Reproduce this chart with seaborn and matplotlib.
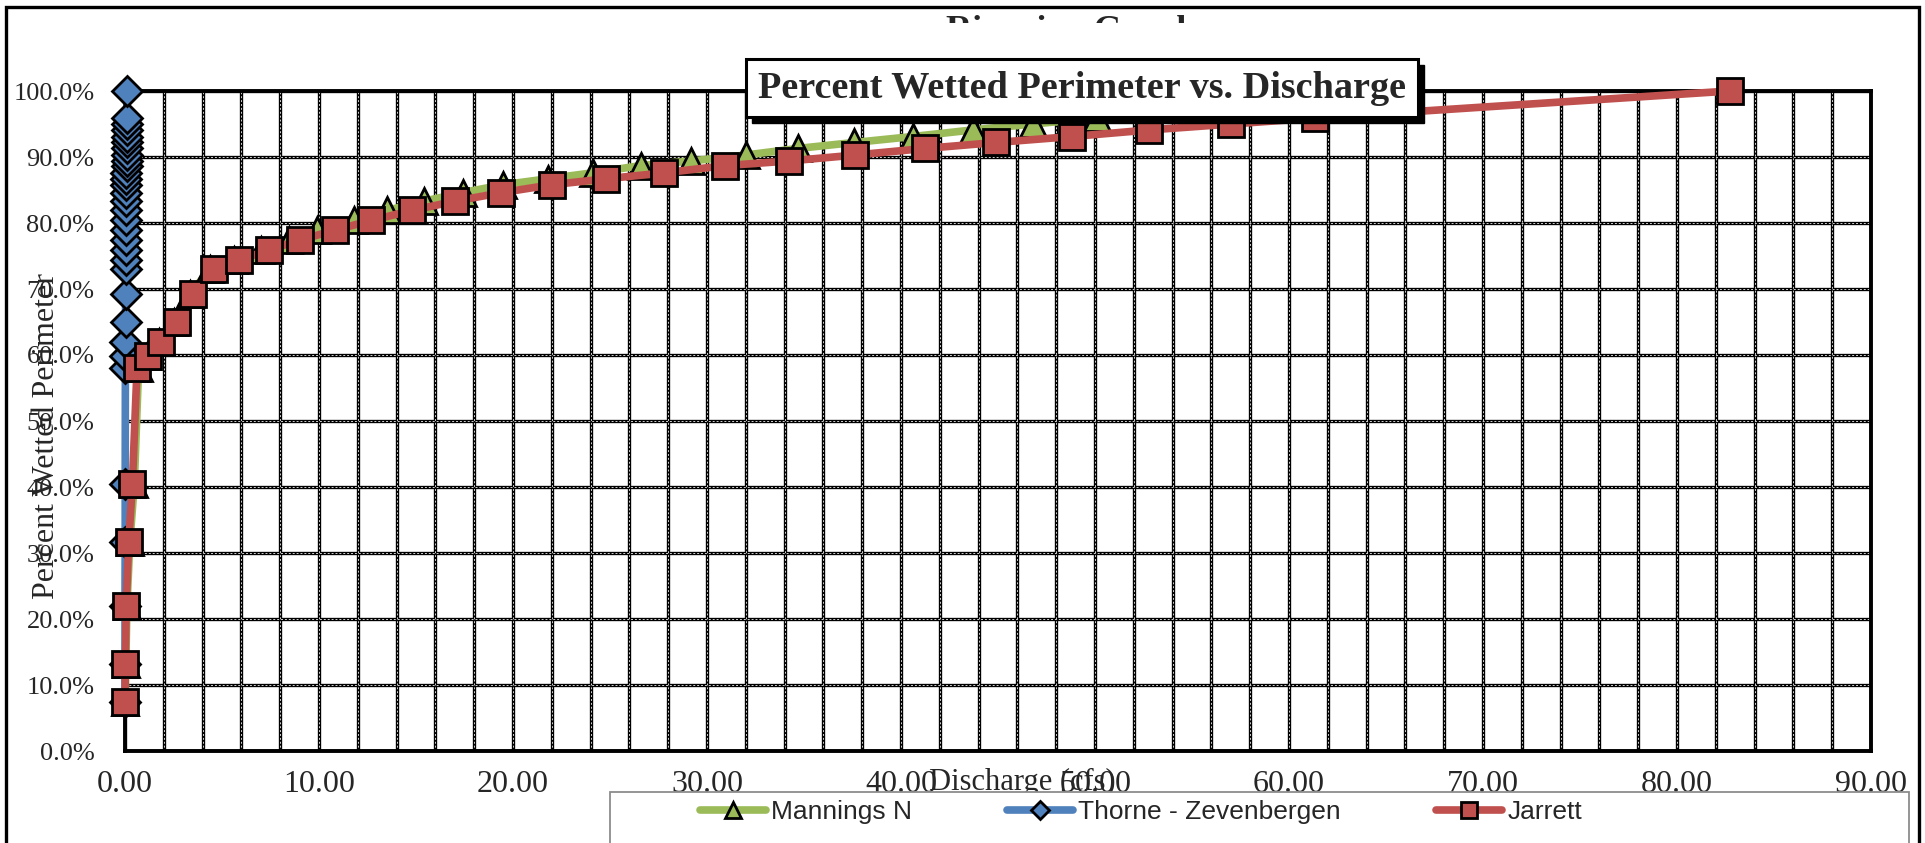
import numpy as np
import matplotlib
matplotlib.use("Agg")
import matplotlib.pyplot as plt
import seaborn as sns
import pandas as pd
from matplotlib.patches import Rectangle
from matplotlib.ticker import MultipleLocator, PercentFormatter

sns.set_theme(style="white")
plt.rcParams['font.family'] = ['Liberation Serif', 'DejaVu Serif']

# percent wetted perimeter levels (shared by the three methods)
pct_wetted = [7.4, 13.2, 21.9, 31.6, 40.5, 58.0, 59.8, 61.9, 65.0, 69.3,
              73.0, 74.4, 75.9, 77.4, 78.9, 80.4, 81.9, 83.3, 84.6, 85.8,
              86.7, 87.6, 88.7, 89.4, 90.3, 91.3, 92.2, 93.1, 94.1, 95.0,
              95.9, 100.0]

# discharge (cfs)
q_mannings = [0.01, 0.04, 0.10, 0.25, 0.48, 0.70, 1.15, 1.75, 2.55, 3.35,
              4.40, 5.60, 7.00, 8.45, 9.90, 11.80, 13.50, 15.40, 17.40, 19.50,
              21.80, 24.10, 26.60, 29.20, 32.00, 34.70, 37.60, 40.60, 43.70, 46.80,
              50.10, 63.00]
q_thorne = [0.00, 0.00, 0.00, 0.01, 0.01, 0.02, 0.02, 0.02, 0.03, 0.03,
            0.04, 0.04, 0.04, 0.05, 0.05, 0.05, 0.06, 0.06, 0.06, 0.07,
            0.07, 0.07, 0.08, 0.08, 0.08, 0.09, 0.09, 0.09, 0.10, 0.10,
            0.10, 0.12]
q_jarrett = [0.00, 0.02, 0.06, 0.19, 0.38, 0.62, 1.19, 1.85, 2.68, 3.50,
             4.60, 5.90, 7.40, 9.00, 10.80, 12.70, 14.80, 17.00, 19.40, 22.00,
             24.80, 27.80, 30.95, 34.24, 37.65, 41.25, 44.90, 48.80, 52.80, 57.03,
             61.33, 82.72]

series = [("Mannings N", q_mannings, "#9BBB59", "^", 19),
          ("Thorne - Zevenbergen", q_thorne, "#4F81BD", "D", 15),
          ("Jarrett", q_jarrett, "#C0504D", "s", 19)]

W, H = 1925, 843
fig = plt.figure(figsize=(W / 100, H / 100), dpi=100)
ax = fig.add_axes([125 / W, 1 - 751 / H, (1871 - 125) / W, (751 - 91) / H])

for name, q, col, mk, ms in series:
    df = pd.DataFrame({"Discharge": q, "Pct": pct_wetted})
    sns.lineplot(data=df, x="Discharge", y="Pct", ax=ax, sort=False, estimator=None,
                 color=col, lw=5.5, marker=mk, markersize=ms, markerfacecolor=col,
                 markeredgecolor="black", markeredgewidth=2.0, label=name,
                 clip_on=False, zorder=3)

ax.set_xlim(0, 90)
ax.set_ylim(0, 100)
ax.xaxis.set_major_locator(MultipleLocator(10))
ax.xaxis.set_minor_locator(MultipleLocator(2))
ax.yaxis.set_major_locator(MultipleLocator(10))
ax.yaxis.set_major_formatter(PercentFormatter(xmax=100, decimals=1))
ax.xaxis.set_major_formatter(plt.FuncFormatter(lambda v, p: f"{v:.2f}"))
ax.grid(True, which="both", axis="x", color="black", lw=2.4, zorder=1)
ax.grid(True, which="major", axis="y", color="black", lw=2.4, zorder=1)
ax.vlines(np.arange(2, 90, 2), 0, 100, colors="#cfcfcf", lw=0.7,
          linestyles=(0, (2, 2)), zorder=1.5)
ax.hlines(np.arange(10, 100, 10), 0, 90, colors="#cfcfcf", lw=0.7,
          linestyles=(0, (2, 2)), zorder=1.5)
ax.set_axisbelow(True)
for s in ax.spines.values():
    s.set_color("black")
    s.set_linewidth(2.8)
ax.tick_params(axis="both", which="both", length=0)
ax.tick_params(axis="y", labelsize=19, pad=22)
ax.tick_params(axis="x", labelsize=23, pad=14)
ax.set_xlabel("")
ax.set_ylabel("")
ax.get_legend().remove()

fig.text(0.024, 0.483, "Percent Wetted Perimeter", rotation=90, ha="center",
         va="center", fontsize=23)
fig.text(0.531, 1 - 782 / H, "Discharge (cfs)", ha="center", va="center", fontsize=22)

# outer chart frame
fig.patches.append(Rectangle((6 / W, -0.1), (1919 - 6) / W, 1.1 - 7 / H,
                             transform=fig.transFigure, fill=False,
                             ec="black", lw=2.4, zorder=20))

# half hidden chart title behind
fig.text(1071 / W, 1 - 15 / H, "Riparian Graph", ha="center", va="top",
         fontsize=26, fontweight="bold", zorder=4)
fig.patches.append(Rectangle((0.4, 1 - 55 / H), 0.3, (55 - 23) / H,
                             transform=fig.transFigure, fc="white", ec="none", zorder=5))

# title box with shadow
bx0, bx1, by0, by1 = 746, 1418, 59, 117
fig.patches.append(Rectangle(((bx0 + 6) / W, 1 - (by1 + 6) / H), (bx1 - bx0) / W,
                             (by1 - by0) / H, transform=fig.transFigure,
                             fc="black", ec="black", zorder=10))
fig.patches.append(Rectangle((bx0 / W, 1 - by1 / H), (bx1 - bx0) / W, (by1 - by0) / H,
                             transform=fig.transFigure, fc="white", ec="black",
                             lw=2.2, zorder=11))
fig.text((bx0 + bx1) / 2 / W, 1 - (by0 + by1) / 2 / H,
         "Percent Wetted Perimeter vs. Discharge", ha="center", va="center",
         fontsize=27.5, fontweight="bold", zorder=12)

# legend box
fig.patches.append(Rectangle((610 / W, -0.1), (1909 - 610) / W, 0.1 + 1 - 792 / H,
                             transform=fig.transFigure, fc="white", ec="#8c8c8c",
                             lw=1.3, zorder=14))
handles, labels = ax.get_legend_handles_labels()
leg = fig.legend(handles, labels, loc="center left", ncol=3,
                 bbox_to_anchor=(676 / W, 1 - 812 / H), frameon=False,
                 prop={"family": ["Liberation Sans Narrow", "Liberation Sans", "DejaVu Sans"],
                       "size": 19},
                 handlelength=2.5, handletextpad=0.2, columnspacing=3.6,
                 markerscale=0.6)
leg.set_zorder(15)

fig.savefig("out.png", dpi=100)
